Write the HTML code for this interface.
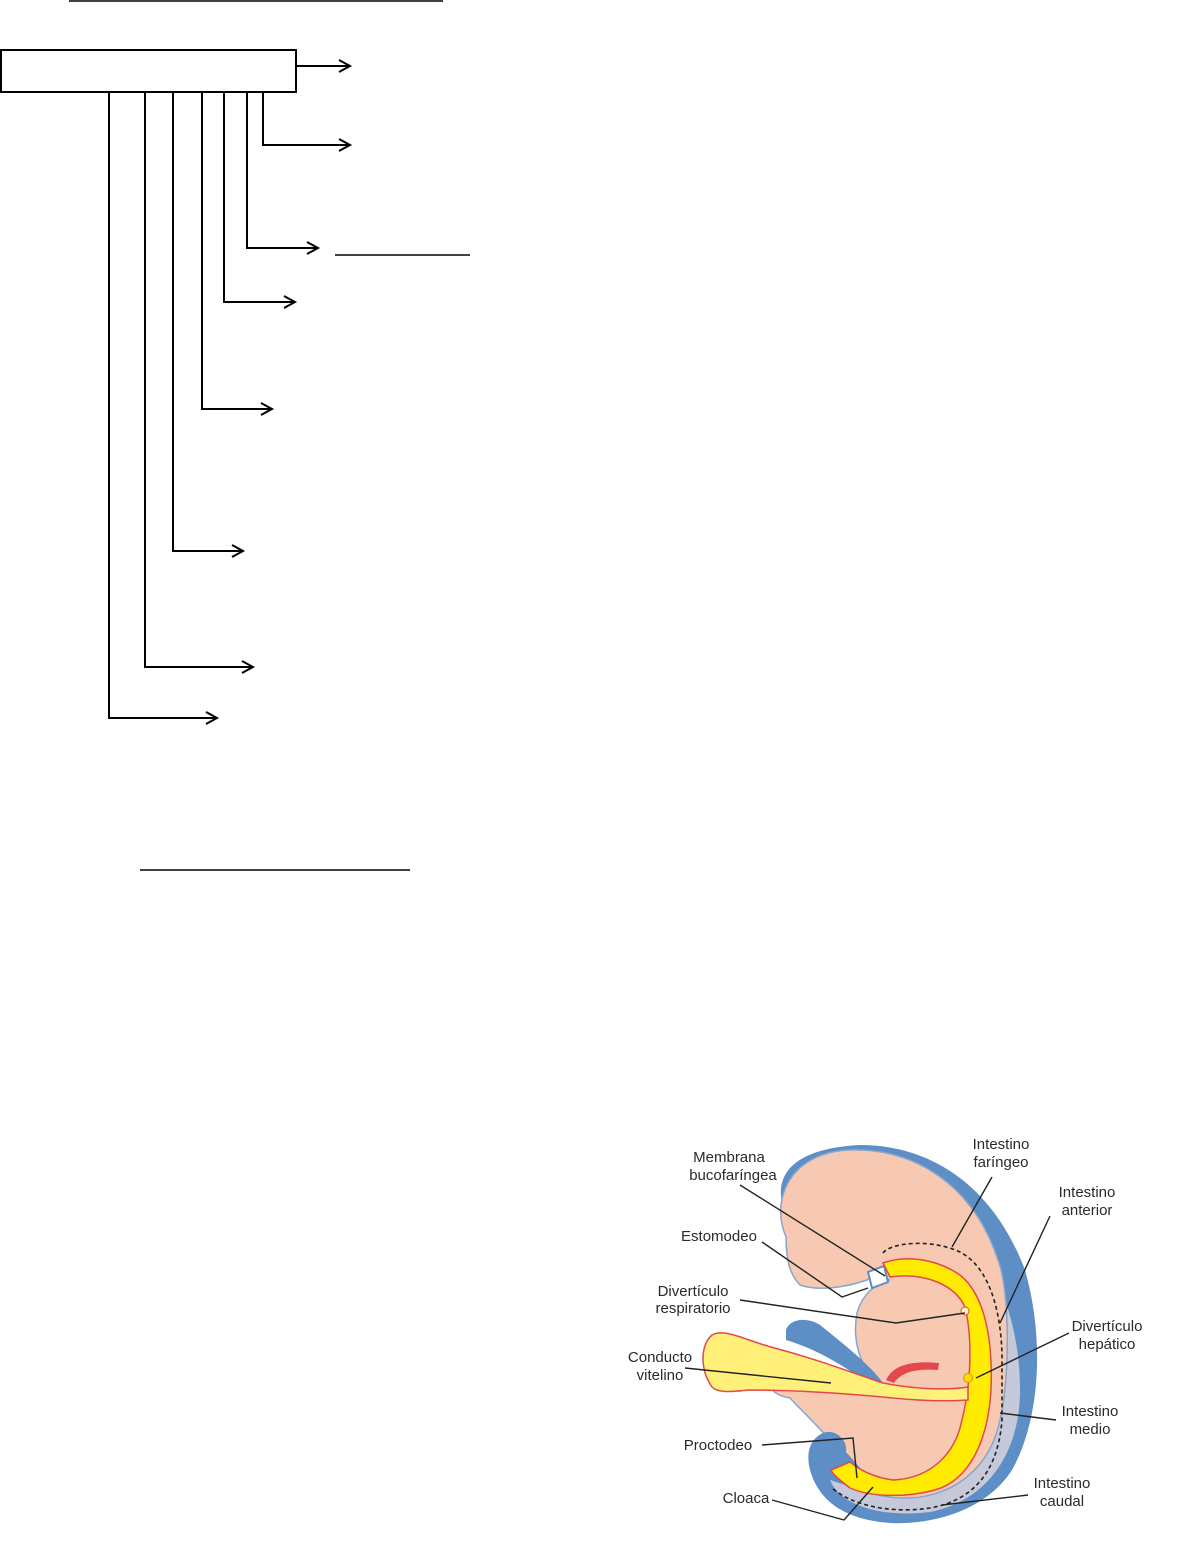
<!DOCTYPE html>
<html><head><meta charset="utf-8"><style>
html,body{margin:0;padding:0;background:#fff;}
svg{display:block;}
text{font-family:"Liberation Sans",sans-serif;font-size:15px;fill:#2a2a2a;}
</style></head><body>
<svg width="1181" height="1541" viewBox="0 0 1181 1541" xmlns="http://www.w3.org/2000/svg">
<g stroke="#000" stroke-width="2" fill="none">
<line x1="69" y1="1" x2="443" y2="1" stroke-width="1.5"/>
<rect x="1" y="50" width="295" height="42"/>
<line x1="296" y1="66" x2="350" y2="66"/><polyline points="339,60 350,66 339,72"/>
<polyline points="263,92 263,145 350,145"/><polyline points="339,139 350,145 339,151"/>
<polyline points="247,92 247,248 318,248"/><polyline points="307,242 318,248 307,254"/>
<line x1="335" y1="255" x2="470" y2="255" stroke-width="1.5"/>
<polyline points="224,92 224,302 295,302"/><polyline points="284,296 295,302 284,308"/>
<polyline points="202,92 202,409 272,409"/><polyline points="261,403 272,409 261,415"/>
<polyline points="173,92 173,551 243,551"/><polyline points="232,545 243,551 232,557"/>
<polyline points="145,92 145,667 253,667"/><polyline points="242,661 253,667 242,673"/>
<polyline points="109,92 109,718 217,718"/><polyline points="206,712 217,718 206,724"/>
<line x1="140" y1="870" x2="410" y2="870" stroke-width="1.5"/>
</g>
<!-- embryo -->
<g>
<!-- outer blue -->
<path d="M782,1203 C775,1170 800,1148 860,1145 C935,1145 995,1190 1025,1270 C1045,1340 1040,1420 1012,1470 C985,1512 930,1525 890,1523 C850,1520 820,1505 810,1470 C805,1450 812,1438 823,1433 L845,1445 C840,1470 870,1500 910,1500 C960,1498 995,1460 1005,1410 C1015,1350 1000,1270 960,1220 C920,1170 860,1160 820,1170 Z" fill="#5d8fc6"/>
<!-- grey -->
<path d="M960,1230 C995,1260 1020,1320 1020,1390 C1020,1450 990,1500 930,1512 C880,1518 840,1505 830,1480 L860,1490 C900,1500 950,1490 975,1455 C995,1420 1000,1340 985,1290 C975,1265 965,1245 960,1230 Z" fill="#c5c9d9"/>
<!-- head pink -->
<path d="M786,1237 C770,1200 790,1152 850,1150 C920,1148 975,1190 998,1260 C1010,1290 1010,1380 1000,1420 C990,1470 950,1500 900,1498 C860,1496 845,1480 840,1460 C835,1440 810,1420 790,1398 C770,1395 760,1380 800,1385 L875,1380 C860,1365 852,1340 857,1313 C862,1295 875,1283 890,1280 L875,1277 C850,1287 820,1292 800,1285 C790,1275 786,1260 786,1237 Z" fill="#f8c9b2" stroke="#86a6cc" stroke-width="1.5"/>
<!-- stomodeum notch -->
<path d="M868,1272 L884,1266 L888,1282 L872,1288 Z" fill="#fff" stroke="#5d8fc6" stroke-width="2"/>
<!-- flap -->
<path d="M786,1330 C790,1318 808,1317 820,1325 C845,1345 870,1365 883,1383 L870,1385 C850,1370 820,1350 786,1340 Z" fill="#5d8fc6"/>
<!-- tail blue -->
<path d="M823,1433 C835,1428 848,1440 846,1452 L862,1470 L858,1483 L848,1478 C840,1470 830,1460 823,1450 Z" fill="#5d8fc6"/>
<!-- yellow gut -->
<path d="M883,1263 C905,1255 935,1258 960,1275 C985,1295 993,1340 991,1390 C988,1440 970,1480 935,1490 C905,1498 870,1497 850,1488 C840,1480 833,1475 831,1470 L850,1462 C860,1470 875,1478 894,1480 C930,1478 955,1455 962,1420 C972,1380 972,1335 965,1307 C955,1285 925,1272 890,1277 Z" fill="#ffec00" stroke="#e4474d" stroke-width="1.5"/>
<!-- vitelline duct -->
<path d="M712,1387 C700,1370 700,1345 712,1335 C725,1328 745,1340 771,1347 C820,1360 850,1372 883,1383 C920,1390 950,1390 968,1387 L968,1400 C940,1402 910,1400 883,1397 C840,1393 790,1390 749,1390 C730,1392 718,1393 712,1387 Z" fill="#fff07a" stroke="#e4474d" stroke-width="1.5"/>
<!-- red hook -->
<path d="M886,1380 C892,1368 905,1360 939,1363 L938,1370 C912,1368 900,1374 894,1383 Z" fill="#e4474d"/>
<!-- diverticula -->
<circle cx="965" cy="1311" r="4" fill="#fff9c0" stroke="#e4474d"/>
<circle cx="968" cy="1378" r="4.5" fill="#ffd800" stroke="#c9a000"/>
<!-- dashed -->
<path d="M883,1253 C890,1243 930,1238 960,1252 C985,1265 1000,1300 1002,1353 L1002,1420 C998,1470 975,1500 930,1508 C890,1514 850,1505 831,1487" fill="none" stroke="#222" stroke-width="1.6" stroke-dasharray="4,3"/>
</g>
<g stroke="#222" stroke-width="1.4" fill="none">
<polyline points="740,1185 885,1276"/>
<polyline points="762,1242 842,1297 868,1288"/>
<polyline points="992,1177 952,1247"/>
<polyline points="1050,1216 1000,1323"/>
<polyline points="740,1300 896,1323 965,1313"/>
<polyline points="1069,1333 976,1378"/>
<polyline points="685,1368 831,1383"/>
<polyline points="1056,1420 1000,1413"/>
<polyline points="762,1445 853,1438 857,1478"/>
<polyline points="772,1500 844,1520 873,1487"/>
<polyline points="1028,1495 942,1505"/>
</g>
<g text-anchor="middle">
<text x="729" y="1162">Membrana</text><text x="733" y="1180">bucofaríngea</text>
<text x="1001" y="1149">Intestino</text><text x="1001" y="1167">faríngeo</text>
<text x="1087" y="1197">Intestino</text><text x="1087" y="1215">anterior</text>
<text x="719" y="1241">Estomodeo</text>
<text x="693" y="1296">Divertículo</text><text x="693" y="1313">respiratorio</text>
<text x="1107" y="1331">Divertículo</text><text x="1107" y="1349">hepático</text>
<text x="660" y="1362">Conducto</text><text x="660" y="1380">vitelino</text>
<text x="1090" y="1416">Intestino</text><text x="1090" y="1434">medio</text>
<text x="718" y="1450">Proctodeo</text>
<text x="1062" y="1488">Intestino</text><text x="1062" y="1506">caudal</text>
<text x="746" y="1503">Cloaca</text>
</g>
</svg>
</body></html>
